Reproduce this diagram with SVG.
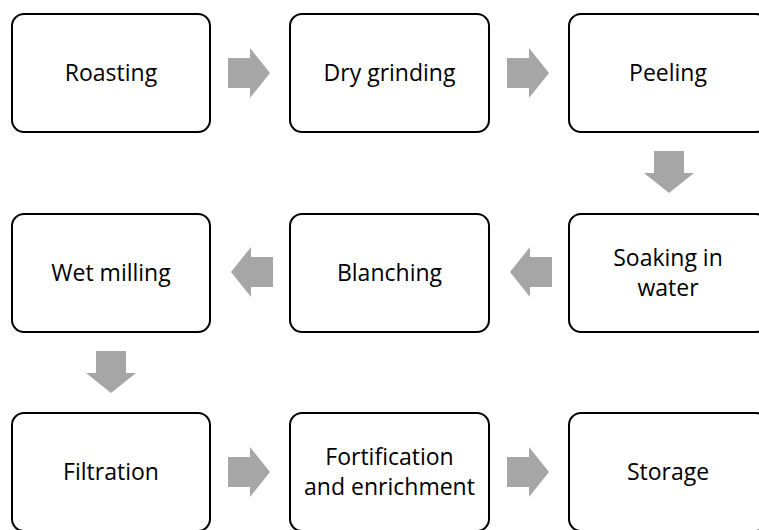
<svg xmlns="http://www.w3.org/2000/svg" xmlns:xlink="http://www.w3.org/1999/xlink" width="759" height="530" viewBox="0 0 759 530">
  <style>
    .box { fill: #ffffff; stroke: #000000; stroke-width: 2; }
    .lbl { font-family: "Open Sans", "Liberation Sans", sans-serif; font-size: 23px; fill: #000000; text-anchor: middle; }
    .arr { fill: #a6a6a6; }
  </style>
  <defs>
    <path id="arrowR" d="M0,-15 H22 V-25 L42,0 L22,25 V15 H0 Z"/>
  </defs>
  <rect x="0" y="0" width="759" height="530" fill="#ffffff"/>

  <g id="connectors" class="arr">
    <use xlink:href="#arrowR" transform="translate(228,73)"/>
    <use xlink:href="#arrowR" transform="translate(507,73)"/>
    <use xlink:href="#arrowR" transform="translate(669,151) rotate(90)"/>
    <use xlink:href="#arrowR" transform="translate(552,272) rotate(180)"/>
    <use xlink:href="#arrowR" transform="translate(273,272) rotate(180)"/>
    <use xlink:href="#arrowR" transform="translate(111,351) rotate(90)"/>
    <use xlink:href="#arrowR" transform="translate(228,472)"/>
    <use xlink:href="#arrowR" transform="translate(507,472)"/>
  </g>

  <g id="roasting">
    <rect class="box" x="12" y="14" width="198" height="118" rx="12"/>
    <text class="lbl" x="111" y="81">Roasting</text>
  </g>
  <g id="dry-grinding">
    <rect class="box" x="290" y="14" width="199" height="118" rx="12"/>
    <text class="lbl" x="389.5" y="81">Dry grinding</text>
  </g>
  <g id="peeling">
    <rect class="box" x="569" y="14" width="199" height="118" rx="12"/>
    <text class="lbl" x="668" y="81">Peeling</text>
  </g>

  <g id="wet-milling">
    <rect class="box" x="12" y="214" width="198" height="118" rx="12"/>
    <text class="lbl" x="111" y="281">Wet milling</text>
  </g>
  <g id="blanching">
    <rect class="box" x="290" y="214" width="199" height="118" rx="12"/>
    <text class="lbl" x="389.5" y="281">Blanching</text>
  </g>
  <g id="soaking">
    <rect class="box" x="569" y="214" width="199" height="118" rx="12"/>
    <text class="lbl" x="668" y="266">Soaking in</text>
    <text class="lbl" x="668" y="296">water</text>
  </g>

  <g id="filtration">
    <rect class="box" x="12" y="413" width="198" height="118" rx="12"/>
    <text class="lbl" x="111" y="480">Filtration</text>
  </g>
  <g id="fortification">
    <rect class="box" x="290" y="413" width="199" height="118" rx="12"/>
    <text class="lbl" x="389.5" y="465">Fortification</text>
    <text class="lbl" x="389.5" y="495">and enrichment</text>
  </g>
  <g id="storage">
    <rect class="box" x="569" y="413" width="199" height="118" rx="12"/>
    <text class="lbl" x="668" y="480">Storage</text>
  </g>
</svg>
